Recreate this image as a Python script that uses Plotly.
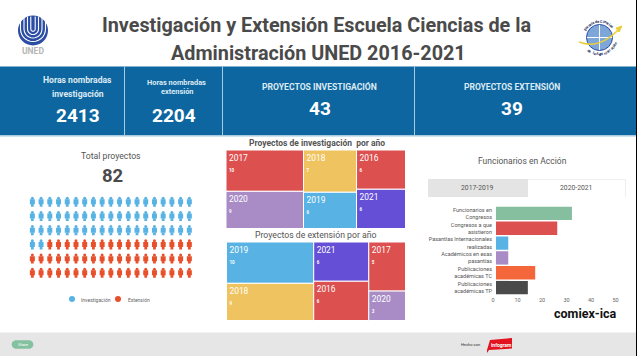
import math
import plotly.graph_objects as go

W, H = 637, 356
TITLE_LINES = ["Investigación y Extensión Escuela Ciencias de la", "Administración UNED 2016-2021"]

inv_years = ["2017", "2020", "2018", "2019", "2016", "2021"]
inv_values = [10, 9, 7, 6, 6, 6]
inv_groups = ["a", "a", "b", "b", "c", "c"]
inv_colors = ["#DD5050", "#A98CC6", "#EFC35F", "#58B3E4", "#DD5050", "#654FD6"]

ext_years = ["2019", "2018", "2021", "2016", "2017", "2020"]
ext_values = [10, 9, 6, 6, 5, 3]
ext_groups = ["a", "a", "b", "b", "c", "c"]
ext_colors = ["#58B3E4", "#EFC35F", "#654FD6", "#DD5050", "#DD5050", "#A98CC6"]

bar_labels = ["Funcionarios en<br>Congresos", "Congresos a que<br>asistieron",
              "Pasantías Internacionales<br>realizadas", "Académicos en esas<br>pasantías",
              "Publicaciones<br>académicas TC", "Publicaciones<br>académicas TP"]
bar_values = [31, 25, 5, 5, 16, 13]
bar_colors = ["#86BF9F", "#DD5050", "#58B3E4", "#A98CC6", "#F4673A", "#4A4A4A"]

picto_cols = 19
picto_rows = 6
picto_inv = 59

BLUE = "#0D669F"
GREY = "#4A4A4A"


def dx(a, b):
    return [a / W, b / W]


def dy(top, bottom):
    return [1 - bottom / H, 1 - top / H]


def treemap(years, values, groups, colors, x0, x1, y0, y1):
    names = list(dict.fromkeys(groups))
    ids = ["root"] + names + [f"{g}-{y}" for g, y in zip(groups, years)]
    labels = [""] * (len(names) + 1) + years
    parents = [""] + ["root"] * len(names) + groups
    vals = [sum(values)] + [sum(v for v, g in zip(values, groups) if g == n) for n in names] + values
    cols = ["#FFFFFF"] * (len(names) + 1) + colors
    texts = [""] * (len(names) + 1) + [
        f"{y}<br><b><span style='font-size:4.5px'>{v}</span></b>" for y, v in zip(years, values)
    ]
    return go.Treemap(
        ids=ids, labels=labels, parents=parents, values=vals, branchvalues="total", sort=False,
        text=texts, texttemplate="%{text}", textposition="top left", hoverinfo="skip",
        textfont=dict(family="Roboto", size=8.4, color="#FFFFFF"),
        tiling=dict(packing="slice-dice", pad=0),
        marker=dict(colors=cols, line=dict(color="#FFFFFF", width=1), pad=dict(t=0, l=0, r=0, b=0), depthfade=False),
        pathbar=dict(visible=False), root=dict(color="#FFFFFF"),
        domain=dict(x=dx(x0, x1), y=dy(y0, y1)),
    )


fig = go.Figure()
fig.add_trace(treemap(inv_years, inv_values, inv_groups, inv_colors, 226, 405.5, 150, 228.5))
fig.add_trace(treemap(ext_years, ext_values, ext_groups, ext_colors, 226.5, 405.5, 242, 320.5))

fig.add_trace(go.Bar(x=bar_values, y=bar_labels, orientation="h", width=0.9,
                     marker=dict(color=bar_colors, line=dict(width=0)),
                     xaxis="x2", yaxis="y2", hoverinfo="skip"))

# pictogram: one person per cell, head + torso + legs
cx, cy, kinds = [], [], []
for r in range(picto_rows):
    for c in range(picto_cols):
        cx.append(c)
        cy.append(r)
        kinds.append("#58B3E4" if r * picto_cols + c < picto_inv else "#E8502C")
for off, size, sym in [(-0.29, 3.0, "circle"), (-0.03, 5.0, "square"), (0.22, 2.8, "square")]:
    fig.add_trace(go.Scatter(x=cx, y=[v + off for v in cy], mode="markers", xaxis="x3", yaxis="y3",
                             marker=dict(size=size, color=kinds, symbol=sym, line=dict(width=0)),
                             hoverinfo="skip"))

shapes = []


def rect(x0, y0, x1, y1, color, layer="below"):
    shapes.append(dict(type="rect", x0=x0, x1=x1, y0=y0, y1=y1, xref="x", yref="y", layer=layer,
                       fillcolor=color, line=dict(width=0)))


def circle(x, y, r, color, line=None, lw=0, layer="below"):
    shapes.append(dict(type="circle", x0=x - r, x1=x + r, y0=y - r, y1=y + r, xref="x", yref="y", layer=layer,
                       fillcolor=color, line=dict(width=lw, color=line or color)))


def path(d, color, lw, fill=None):
    shapes.append(dict(type="path", path=d, xref="x", yref="y", layer="below",
                       fillcolor=fill or "rgba(0,0,0,0)", line=dict(color=color, width=lw)))


def arc_points(cxp, cyp, r, a0, a1, n=14):
    return [(cxp + r * math.cos(math.radians(a0 + (a1 - a0) * i / n)),
             cyp + r * math.sin(math.radians(a0 + (a1 - a0) * i / n))) for i in range(n + 1)]


def poly(points, close=False):
    return "M " + " L ".join(f"{x:.2f} {y:.2f}" for x, y in points) + (" Z" if close else "")


rect(0, 66.5, W, 135.5, BLUE)
rect(0, 135.5, W, 137, "#CFE3EF")
for x in (124.5, 222.5, 414.5):
    rect(x - 0.5, 66.5, x + 0.5, 135.5, "#A8CBE0")
rect(0, 332.5, W, H, "#E6E6E6")
rect(636, 0, W, H, "#000000")

# tabs
rect(428, 179, 528, 197, "#E4E4E4")
rect(528, 179, 626, 197, "#FFFFFF")
rect(528, 179, 626, 180, "#F0F0F0")
rect(625, 179, 626, 197, "#EFEFEF")

# UNED logo
circle(33, 30.5, 15, "#2B4DA3")
for r in (12.5, 9.0, 5.5, 2.2):
    pts = [(33 - r, 16.5)] + arc_points(33, 29, r, 180, 0) + [(33 + r, 16.5)]
    path(poly(pts), "#FFFFFF", 1.1)

# school logo
circle(599.5, 37.5, 13, "#7FA6D9", "#2B4DA3", 1)
path("M 599.5 25 L 599.5 50 M 587 37.5 L 612 37.5", "#FFFFFF", 1)
path("M 579 42 Q 600 50 620 28", "#E9CF3A", 1.5)
path("M 622 26 L 616 28 L 619 32 Z", "#E9CF3A", 1, "#E9CF3A")

# share pill and infogram flag
pill = arc_points(16, 344.5, 4.3, 90, 270) + arc_points(29, 344.5, 4.3, -90, 90)
shapes.append(dict(type="path", xref="x", yref="y", layer="below", fillcolor="#84C1A0", line=dict(width=0),
                   path=poly(pill, True)))
shapes.append(dict(type="path", xref="x", yref="y", layer="below", fillcolor="#E2131F", line=dict(width=0),
                   path="M 490 340 L 512 338 L 512 348.5 L 489 350 L 487 353 L 487 350 Z"))

ann = []


def text(x, y, s, size, color=GREY, bold=False, family="Roboto", anchor="center", angle=0):
    ann.append(dict(x=x, y=y, xref="x", yref="y", text=f"<b>{s}</b>" if bold else s, showarrow=False,
                    xanchor=anchor, yanchor="middle", textangle=angle,
                    font=dict(family=family, size=size, color=color)))


text(316, 25, TITLE_LINES[0], 19.8, GREY, True)
text(318, 53, TITLE_LINES[1], 19.8, GREY, True)

KPI = "#DCEAF3"
text(77.5, 80, "Horas nombradas", 8.6, KPI, True)
text(77.5, 94, "investigación", 8.6, KPI, True)
text(78, 115, "2413", 19, "#FFFFFF", True)
text(176.5, 82, "Horas nombradas", 7.4, KPI, True)
text(176.5, 91.5, "extensión", 7.4, KPI, True)
text(174, 115, "2204", 19, "#FFFFFF", True)
text(319.5, 86, "PROYECTOS INVESTIGACIÓN", 8.6, KPI, True)
text(319.5, 108, "43", 19, "#FFFFFF", True)
text(511.5, 86, "PROYECTOS EXTENSIÓN", 8.5, KPI, True)
text(511.5, 108, "39", 19, "#FFFFFF", True)

text(111, 156, "Total proyectos", 8.7, "#555555")
text(112, 176, "82", 18.5, GREY, True)
circle(72, 299, 3, "#58B3E4")
circle(118, 299, 3, "#E8502C")
text(79, 299.5, "Investigación", 5, "#666666", anchor="left")
text(126, 299.5, "Extensión", 5, "#666666", anchor="left")

text(317, 143, "Proyectos de investigación  por año", 8.5, "#555555", True)
text(316, 235, "Proyectos de extensión por año", 8.7, "#555555")
text(522.7, 160.5, "Funcionarios en Acción", 8.5, "#555555")
text(477.5, 188, "2017-2019", 6.8, "#555555")
text(576, 188, "2020-2021", 6.8, "#555555")
text(585, 313, "comiex-ica", 12.5, "#111111", True)

text(33, 51, "UNED", 8.5, "#B5B5B5", True)
text(22.5, 344.5, "Share", 4, "#FFFFFF")
text(470.5, 344.5, "Hecho con", 4, "#333333")
text(501, 344.5, "infogram", 5, "#FFFFFF", True)

# lettering round the school logo
for phrase, start, stop, top in [("Escuela de Ciencias", -150, -40, True), ("de la Administración", 130, 20, False)]:
    n = len(phrase)
    for i, ch in enumerate(phrase):
        a = start + (stop - start) * i / (n - 1)
        t = math.radians(a)
        rot = a + 90 if top else a - 90
        text(599.5 + 16.5 * math.cos(t), 37.5 + 16.5 * math.sin(t), ch, 3.8, "#1F2F5F", True, angle=rot)

fig.update_layout(
    width=W, height=H, margin=dict(l=0, r=0, t=0, b=0, autoexpand=False), paper_bgcolor="#FFFFFF",
    plot_bgcolor="rgba(0,0,0,0)",
    showlegend=False, shapes=shapes, annotations=ann,
    xaxis=dict(domain=[0, 1], range=[0, W], visible=False, fixedrange=True),
    yaxis=dict(domain=[0, 1], range=[H, 0], visible=False, fixedrange=True),
    xaxis2=dict(domain=dx(496, 618.5), range=[0, 50], anchor="y2", tickvals=[0, 10, 20, 30, 40, 50],
                showgrid=False, zeroline=False, showline=False, ticks="", ticklabelshift=-3,
                tickfont=dict(family="Roboto", size=5.5, color="#666666")),
    yaxis2=dict(domain=dy(206, 295), autorange="reversed", anchor="x2", showgrid=False, zeroline=False,
                showline=False, ticks="", ticklabelstandoff=3,
                tickfont=dict(family="Roboto", size=5.5, color="#555555")),
    xaxis3=dict(domain=dx(28, 193.7), range=[-0.5, 18.5], visible=False, fixedrange=True),
    yaxis3=dict(domain=dy(195.2, 280.4), range=[5.5, -0.5], visible=False, fixedrange=True),
)

fig.write_html("out.html", config=dict(displayModeBar=False))
with open("out.html", encoding="utf-8") as fh:
    page = fh.read()
page = page.replace("<body>", '<body style="margin:0;overflow:hidden">', 1)
with open("out.html", "w", encoding="utf-8") as fh:
    fh.write(page)
